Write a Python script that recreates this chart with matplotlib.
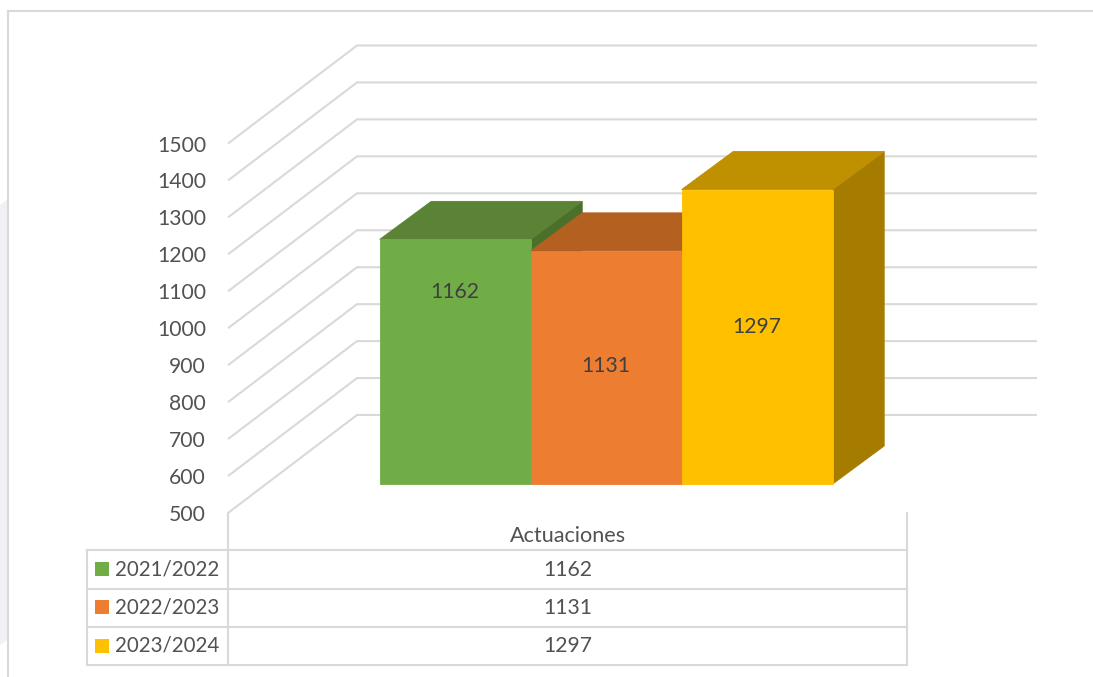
import matplotlib
matplotlib.use("Agg")
import matplotlib.pyplot as plt
from matplotlib.patches import Polygon, Rectangle

plt.rcParams['font.family'] = ['Lato', 'DejaVu Sans']

# data
seasons = ['2021/2022', '2022/2023', '2023/2024']
values = [1162, 1131, 1297]
category = 'Actuaciones'
ticks = list(range(500, 1600, 100))

front_colors = ['#70AD47', '#ED7D31', '#FFC000']
top_colors = ['#5A8336', '#B46021', '#BF9000']
side_colors = ['#4A7029', '#A05018', '#A67C00']
grid_color = '#D9D9D9'
text_color = '#525252'

W, H = 1093, 677
fig = plt.figure(figsize=(W / 100, H / 100), dpi=100)

# pixel overlay for frame, table and labels, sits above the chart
px = fig.add_axes([0, 0, 1, 1])
px.set_xlim(0, W)
px.set_ylim(H, 0)
px.axis('off')
px.set_zorder(5)

# the chart itself, y axis in values on the front plane of the floor
y_500, y_1500 = 513, 143.5
ax = fig.add_axes([228 / W, 1 - y_500 / H, (W - 228) / W, (y_500 - y_1500) / H])
ax.set_xlim(228, W)
ax.set_ylim(500, 1500)
ax.patch.set_alpha(0)
for s in ax.spines.values():
    s.set_visible(False)
ax.set_xticks([])
ax.set_yticks(ticks)
ax.tick_params(axis='y', length=0, pad=15.8, labelsize=15.2, labelcolor=text_color)

unit = (y_500 - y_1500) / 1000  # pixels per value unit
wall_dx, wall_dy = 129, 98 / unit  # floor depth
bar_dx, bar_dy = 51.5, 38 / unit  # bar depth
bar_x0, bar_w = 379.7, 151
bar_lift = 29 / unit  # bars stand this far back on the floor


def poly(pts, color, z):
    ax.add_patch(Polygon(pts, closed=True, facecolor=color, edgecolor=color, lw=0.6,
                         zorder=z, clip_on=False))


for t in ticks:
    ax.plot([228, 228 + wall_dx, 1037], [t, t + wall_dy, t + wall_dy], color=grid_color,
            lw=1.5, zorder=1, clip_on=False, solid_capstyle='butt', solid_joinstyle='miter')

for i, v in enumerate(values):
    x0 = bar_x0 + i * bar_w
    x1 = x0 + bar_w
    base = 500 + bar_lift
    top = v + bar_lift
    z = 2 + i
    poly([(x1, base), (x1 + bar_dx, base + bar_dy), (x1 + bar_dx, top + bar_dy), (x1, top)],
         side_colors[i], z)
    poly([(x0, top), (x1, top), (x1 + bar_dx, top + bar_dy), (x0 + bar_dx, top + bar_dy)],
         top_colors[i], z)
    poly([(x0, base), (x1, base), (x1, top), (x0, top)], front_colors[i], z + 0.5)

# data labels
label_pos = [(455, 292.5), (606, 366.5), (757, 327)]
for (lx, ly), v in zip(label_pos, values):
    px.text(lx, ly, str(v), ha='center', va='center', fontsize=15.2, color='#404040', zorder=10)

# faint background shape on the left edge, and picture frame
px.add_patch(Polygon([(0, 205), (7, 200), (7, 640), (0, 645)], closed=True,
                     facecolor='#F1F1F5', edgecolor='none'))
px.plot([8, 8], [11, H], color=grid_color, lw=1.5)
px.plot([8, W], [11, 11], color=grid_color, lw=1.5)

# data table
row_y = [550, 588.5, 627, 665]
table_l, table_m, table_r = 87, 228, 907
for y in row_y:
    px.plot([table_l, table_r], [y, y], color=grid_color, lw=1.5, solid_capstyle='projecting')
px.plot([table_l, table_l], [row_y[0], row_y[-1]], color=grid_color, lw=1.5)
px.plot([table_m, table_m], [y_500, row_y[-1]], color=grid_color, lw=1.5)
px.plot([table_r, table_r], [y_500, row_y[-1]], color=grid_color, lw=1.5)

px.text(567.5, 536.5, category, ha='center', va='center', fontsize=15.6, color=text_color)
for i, (name, v) in enumerate(zip(seasons, values)):
    yc = (row_y[i] + row_y[i + 1]) / 2
    px.add_patch(Rectangle((95, yc - 7.5), 14, 14, facecolor=front_colors[i], edgecolor='none'))
    px.text(115, yc, name, ha='left', va='center', fontsize=14.8, color=text_color)
    px.text(567.5, yc + 0.5, str(v), ha='center', va='center', fontsize=15.2, color=text_color)

fig.savefig('out.png', dpi=100)
